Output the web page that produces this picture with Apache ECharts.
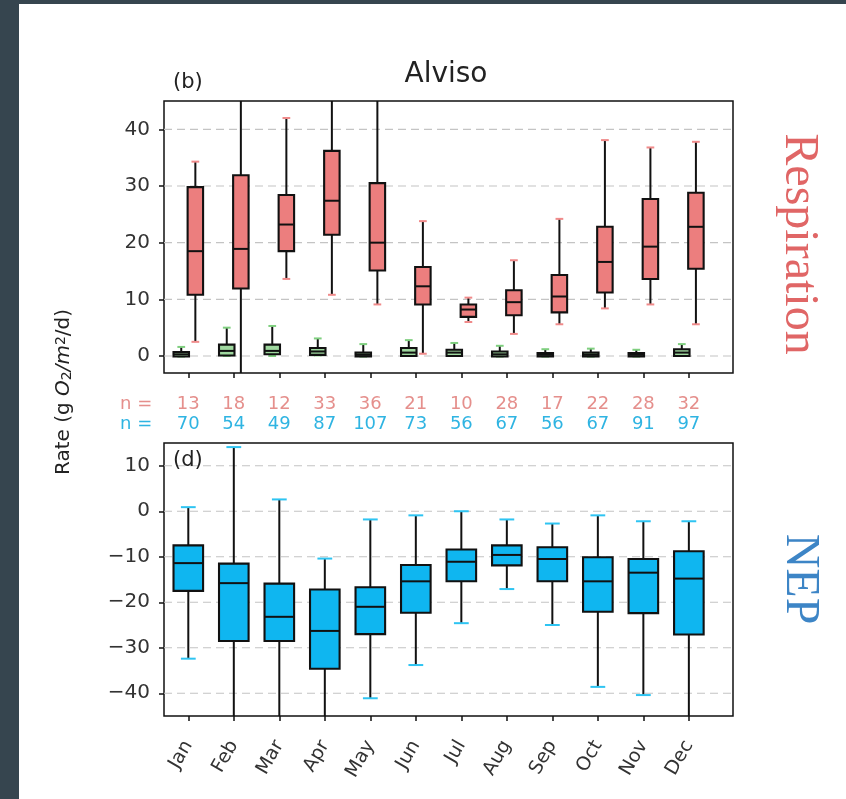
<!DOCTYPE html>
<html><head><meta charset="utf-8">
<script src="https://cdn.jsdelivr.net/npm/echarts@6/dist/echarts.min.js"></script>
<style>
html,body{margin:0;padding:0;background:#36454f;width:846px;height:799px;overflow:hidden}
#c{position:absolute;left:19px;top:4px;width:827px;height:795px;background:#fff}
</style></head><body><div id="c"></div>
<script>
// ---- data ----
const months = ['Jan','Feb','Mar','Apr','May','Jun','Jul','Aug','Sep','Oct','Nov','Dec'];
const monthPos = [1,2,3,4,5,6,7,8,9,10,11,12];
// [low whisker, Q1, median, Q3, high whisker]
const respBoxes = [
  [2.5,10.8,18.5,29.8,34.3],
  [-6,11.9,18.9,31.9,52],
  [13.6,18.5,23.2,28.4,42.0],
  [10.8,21.4,27.4,36.2,52],
  [9.1,15.1,20.0,30.5,52],
  [0.4,9.1,12.3,15.7,23.8],
  [6.0,6.9,8.2,9.1,10.3],
  [3.9,7.2,9.5,11.6,16.9],
  [5.6,7.7,10.5,14.3,24.2],
  [8.4,11.2,16.6,22.8,38.1],
  [9.1,13.6,19.3,27.7,36.8],
  [5.6,15.4,22.8,28.8,37.8]
];
const greenBoxes = [
  [-0.1,-0.1,0.3,0.7,1.6],
  [0.0,0.1,0.9,2.0,5.0],
  [0.0,0.3,0.9,2.0,5.3],
  [0.1,0.2,0.8,1.4,3.1],
  [-0.1,-0.1,0.2,0.6,2.1],
  [0.0,0.0,0.6,1.4,2.8],
  [0.0,0.0,0.6,1.1,2.3],
  [-0.1,-0.1,0.3,0.8,1.8],
  [-0.1,-0.1,0.2,0.5,1.2],
  [-0.1,-0.1,0.2,0.6,1.3],
  [-0.1,-0.1,0.2,0.5,1.1],
  [0.0,0.0,0.6,1.2,2.1]
];
const nepBoxes = [
  [-32.4,-17.5,-11.4,-7.5,0.9],
  [-52,-28.5,-15.8,-11.5,14.1],
  [-52,-28.5,-23.2,-15.9,2.6],
  [-52,-34.6,-26.3,-17.2,-10.4],
  [-41.1,-27.0,-21.0,-16.7,-1.8],
  [-33.8,-22.3,-15.4,-11.8,-0.9],
  [-24.6,-15.4,-11.1,-8.4,0.0],
  [-17.1,-11.9,-9.6,-7.5,-1.8],
  [-25.0,-15.4,-10.5,-7.9,-2.7],
  [-38.6,-22.1,-15.4,-10.1,-0.9],
  [-40.4,-22.4,-13.5,-10.5,-2.2],
  [-52,-27.1,-14.8,-8.8,-2.2]
];
const nResp = [13,18,12,33,36,21,10,28,17,22,28,32];
const nNep = [70,54,49,87,107,73,56,67,56,67,91,97];
const topTicks = [0,10,20,30,40];
const bottomTicks = [-40,-30,-20,-10,0,10];

// ---- rendering ----
const chart = echarts.init(document.getElementById('c'), null, {renderer:'canvas'});
const INK = '#111';
const TICKC = '#333';
function minusFmt(v){ return v < 0 ? '\u2212' + Math.abs(v) : String(v); }

function makeBox(offset, width, fill, capColor, capFrac) {
  return function(params, api) {
    const cs = params.coordSys;
    const x = api.value(0) + offset;
    const cx = api.coord([x, 0])[0];
    const hw = (api.coord([x + width/2, 0])[0] - api.coord([x - width/2, 0])[0]) / 2;
    const yTop = cs.y, yBot = cs.y + cs.height;
    const Y = v => api.coord([x, v])[1];
    const lo = Y(api.value(1)), q1 = Y(api.value(2)), md = Y(api.value(3)), q3 = Y(api.value(4)), hi = Y(api.value(5));
    const cl = y => Math.max(yTop, Math.min(yBot, y));
    const ch = [];
    const wl = {stroke: INK, lineWidth: 2};
    ch.push({type:'line', shape:{x1:cx, y1:cl(q3), x2:cx, y2:cl(hi)}, style:wl});
    ch.push({type:'line', shape:{x1:cx, y1:cl(q1), x2:cx, y2:cl(lo)}, style:wl});
    const cw = hw * capFrac;
    const cs2 = {stroke: capColor, lineWidth: 2};
    if (hi >= yTop) ch.push({type:'line', shape:{x1:cx-cw, y1:hi, x2:cx+cw, y2:hi}, style:cs2});
    if (lo <= yBot) ch.push({type:'line', shape:{x1:cx-cw, y1:lo, x2:cx+cw, y2:lo}, style:cs2});
    ch.push({type:'rect', shape:{x:cx-hw, y:cl(q3), width:2*hw, height:Math.max(1.5, cl(q1)-cl(q3))},
             style:{fill: fill, stroke: INK, lineWidth: 2.1}});
    ch.push({type:'line', shape:{x1:cx-hw, y1:md, x2:cx+hw, y2:md}, style:{stroke: INK, lineWidth: 2}});
    return {type:'group', children: ch};
  };
}
function gridLines(params, api) {
  const cs = params.coordSys;
  const y = api.coord([1, api.value(1)])[1];
  return {type:'line', shape:{x1:cs.x, y1:y, x2:cs.x+cs.width, y2:y},
          style:{stroke:'#c4c4c4', lineWidth:1.2, lineDash:[8,5]}};
}

const XMIN = 0.466, XMAX = 12.97;
function xAxis(gi, labelCfg) {
  return {
    type:'value', gridIndex: gi, min: XMIN, max: XMAX, position:'bottom',
    axisLine:{show:false, onZero:false}, splitLine:{show:false},
    axisTick:{show:true, customValues: monthPos, length:5, lineStyle:{color: INK, width:1.5}},
    axisLabel: labelCfg
  };
}
function yAxis(gi, mn, mx, ticks) {
  return {
    type:'value', gridIndex: gi, min: mn, max: mx, position:'left',
    axisLine:{show:false, onZero:false}, splitLine:{show:false},
    axisTick:{show:true, customValues: ticks, length:5, lineStyle:{color: INK, width:1.5}},
    axisLabel:{customValues: ticks, formatter: minusFmt, fontFamily:'DejaVu Sans', fontSize:20, color: TICKC, margin:14}
  };
}

const option = {
  animation: false,
  grid: [
    {left:145, top:97, width:569, height:272, show:true, borderColor: INK, borderWidth:1.5, backgroundColor:'transparent'},
    {left:145, top:439, width:569, height:273, show:true, borderColor: INK, borderWidth:1.5, backgroundColor:'transparent'}
  ],
  xAxis: [
    xAxis(0, {customValues: monthPos, margin:21, fontFamily:'DejaVu Sans',
      formatter: v => { const i = Math.round(v) - 1; return '{r|' + nResp[i] + '}\n{c|' + nNep[i] + '}'; },
      rich:{ r:{color:'#e58f8c', fontSize:18, lineHeight:20, fontFamily:'DejaVu Sans'},
             c:{color:'#2fb4e2', fontSize:18, lineHeight:20, fontFamily:'DejaVu Sans'} }}),
    xAxis(1, {customValues: monthPos, rotate:60, margin:26, fontFamily:'DejaVu Sans', fontSize:19, color: TICKC,
      formatter: v => months[Math.round(v) - 1]})
  ],
  yAxis: [ yAxis(0, -3, 45, topTicks), yAxis(1, -45, 15, bottomTicks) ],
  series: [
    {type:'custom', xAxisIndex:0, yAxisIndex:0, z:1, silent:true, renderItem: gridLines,
     data: topTicks.map(v => [1, v])},
    {type:'custom', xAxisIndex:1, yAxisIndex:1, z:1, silent:true, renderItem: gridLines,
     data: bottomTicks.map(v => [1, v])},
    {type:'custom', name:'Respiration', xAxisIndex:0, yAxisIndex:0, z:3,
     renderItem: makeBox(0.155, 0.34, '#ec7e7e', '#f08a8a', 0.5),
     data: monthPos.map((p, i) => [p].concat(respBoxes[i]))},
    {type:'custom', name:'Other', xAxisIndex:0, yAxisIndex:0, z:3,
     renderItem: makeBox(-0.155, 0.34, '#9fd89f', '#7fcf7f', 0.5),
     data: monthPos.map((p, i) => [p].concat(greenBoxes[i]))},
    {type:'custom', name:'NEP', xAxisIndex:1, yAxisIndex:1, z:3,
     renderItem: makeBox(0, 0.65, '#0fb6f0', '#2ec4f2', 0.5),
     data: monthPos.map((p, i) => [p].concat(nepBoxes[i]))}
  ],
  graphic: [
    {type:'text', x:427, y:71, style:{text:'Alviso', font:'28px "DejaVu Sans"', fill:'#222', align:'center', verticalAlign:'middle'}},
    {type:'text', x:154, y:79, style:{text:'(b)', font:'21px "DejaVu Sans"', fill:'#222', align:'left', verticalAlign:'middle'}},
    {type:'text', x:154, y:457, z:10, style:{text:'(d)', font:'21px "DejaVu Sans"', fill:'#222', align:'left', verticalAlign:'middle'}},
    {type:'text', x:101, y:400, style:{text:'n =', font:'18px "DejaVu Sans"', fill:'#e58f8c', align:'left', verticalAlign:'middle'}},
    {type:'text', x:101, y:420, style:{text:'n =', font:'18px "DejaVu Sans"', fill:'#2fb4e2', align:'left', verticalAlign:'middle'}},
    {type:'text', x:45, y:388, rotation: Math.PI/2,
     style:{text:'Rate (g {i|O}{sub|2}{i|/m}{sup|2}/d)', font:'20px "DejaVu Sans"', fill:'#222', align:'center', verticalAlign:'middle',
       rich:{ i:{fontStyle:'italic', fontSize:20, fontFamily:'DejaVu Sans', fill:'#222'},
              sub:{fontSize:14, fontFamily:'DejaVu Sans', verticalAlign:'bottom', fill:'#222'},
              sup:{fontSize:14, fontFamily:'DejaVu Sans', verticalAlign:'top', fill:'#222'} }}},
    {type:'text', x:780, y:240, rotation: -Math.PI/2,
     style:{text:'Respiration', font:'48px "Liberation Serif"', fill:'#e06666', align:'center', verticalAlign:'middle'}},
    {type:'text', x:781, y:575, rotation: -Math.PI/2,
     style:{text:'NEP', font:'48px "Liberation Serif"', fill:'#3d85c6', align:'center', verticalAlign:'middle'}}
  ]
};
chart.setOption(option);
</script></body></html>
